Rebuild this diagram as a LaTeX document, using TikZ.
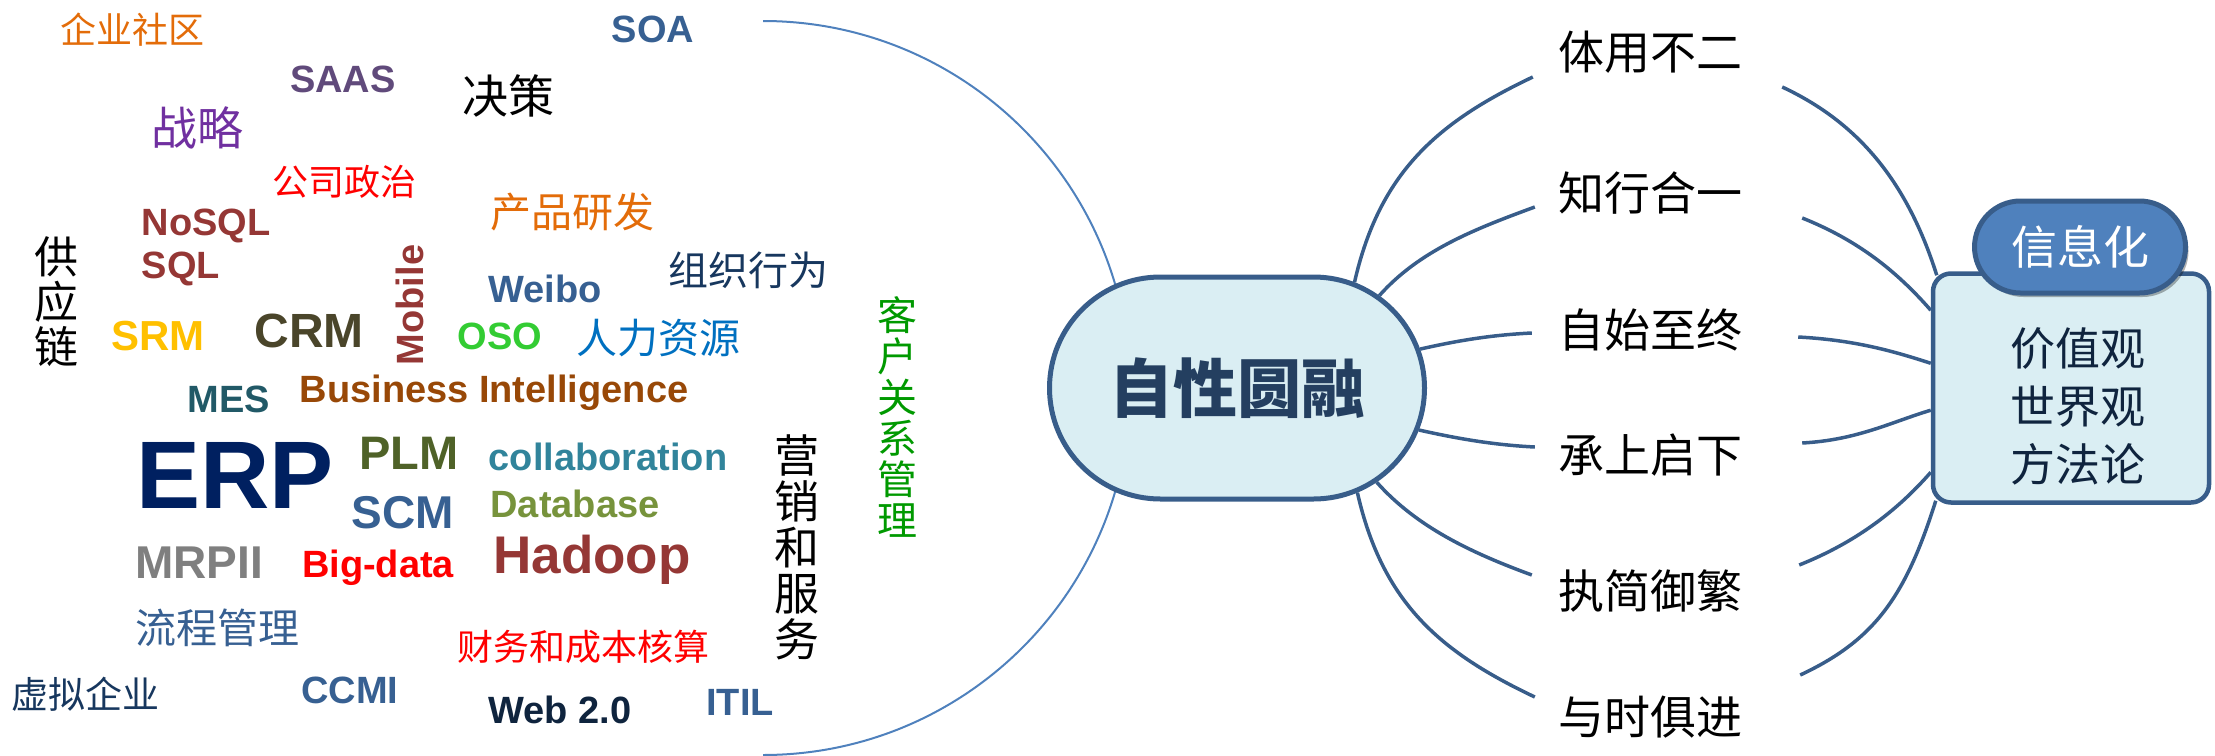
\documentclass[tikz,border=0pt]{standalone}
\usepackage{fontspec}
\setmainfont{Liberation Sans}
\newfontfamily\cjk{Noto Sans CJK SC}
\usetikzlibrary{shapes.misc,backgrounds}

\definecolor{edgeblue}{HTML}{385D8A}
\definecolor{arcblue}{HTML}{4F81BD}
\definecolor{paleblue}{HTML}{DAEEF3}
\definecolor{corenavy}{HTML}{243F60}
\definecolor{textnavy}{HTML}{0F243E}
\definecolor{orng}{HTML}{E36C09}
\definecolor{plum}{HTML}{604A7B}
\definecolor{violet}{HTML}{7030A0}
\definecolor{brick}{HTML}{953735}
\definecolor{gold}{HTML}{FFC000}
\definecolor{darkolive}{HTML}{4A452A}
\definecolor{steel}{HTML}{376092}
\definecolor{lime}{HTML}{33CC33}
\definecolor{azure}{HTML}{0070C0}
\definecolor{navy}{HTML}{17375E}
\definecolor{leafgreen}{HTML}{009900}
\definecolor{rust}{HTML}{984807}
\definecolor{teal}{HTML}{215967}
\definecolor{deepnavy}{HTML}{002060}
\definecolor{olive}{HTML}{4F6228}
\definecolor{sea}{HTML}{31849B}
\definecolor{moss}{HTML}{77933C}
\definecolor{ash}{HTML}{7F7F7F}

\begin{document}
\begin{tikzpicture}[x=1pt,y=-1pt,
    en/.style={font=\bfseries\fontsize{#1}{#1}\selectfont, anchor=base, inner sep=0pt},
    cn/.style={font=\cjk\fontsize{#1}{#1}\selectfont, inner sep=0pt},
    vcn/.style n args={2}{font=\cjk\fontsize{#1}{#2}\selectfont, align=center, inner sep=0pt},
    leaf/.style={font=\cjk\fontsize{46}{46}\selectfont, inner sep=0pt},
    core/.style={rounded rectangle, draw=edgeblue, fill=paleblue, line width=5pt,
      minimum width=375pt, minimum height=222pt, inner sep=0pt,
      font=\cjk\bfseries\fontsize{64}{64}\selectfont, text=corenavy},
    infobox/.style={rectangle, rounded corners=18pt, draw=edgeblue, fill=paleblue,
      line width=4.5pt, minimum width=276pt, minimum height=229pt},
    pill/.style={rectangle, rounded corners=46pt, draw=edgeblue, fill=arcblue, line width=5pt,
      minimum width=211pt, minimum height=92pt, inner sep=0pt, text=white,
      font=\cjk\fontsize{46}{46}\selectfont,
      preaction={fill=black, opacity=0.3, draw=none, transform canvas={shift={(3pt,-4pt)}}}},
    boxtext/.style={align=center, font=\cjk\fontsize{45}{58}\selectfont, text=textnavy, inner sep=0pt},
    branch/.style={draw=edgeblue, line width=3.5pt},
    cloudarc/.style={draw=arcblue, line width=2pt},
  ]
  \useasboundingbox (0,0) rectangle (2215,755);

  % word cloud
  \node[cn=36, text=orng] (qysq) at (132,30) {企业社区};
  \node[en=38, text=steel] (soa) at (653,42) {SOA};
  \node[en=38, text=plum] (saas) at (343,92) {SAAS};
  \node[cn=46] (jc) at (508,96) {决策};
  \node[cn=46, text=violet] (zl) at (197,128) {战略};
  \node[cn=36, text=red] (gszz) at (344,182) {公司政治};
  \node[cn=41, text=orng] (cpyf) at (572,212) {产品研发};
  \node[en=38, text=brick] (nosql) at (206,235) {NoSQL};
  \node[en=38, text=brick] (sql) at (181,278) {SQL};
  \node[vcn={44}{45}] (gyl) at (56,302) {供\\应\\链};
  \node[en=38, text=brick, anchor=center, rotate=90] (mobile) at (410,305) {Mobile};
  \node[cn=40, text=navy] (zzxw) at (748,270) {组织行为};
  \node[en=38, text=steel] (weibo) at (545,302) {Weibo};
  \node[en=42, text=gold] (srm) at (158,350) {SRM};
  \node[en=48, text=darkolive] (crm) at (309,347) {CRM};
  \node[en=38, text=lime] (oso) at (500,349) {OSO};
  \node[cn=41, text=azure] (rlzy) at (658,338) {人力资源};
  \node[vcn={40}{41}, text=leafgreen] (khgl) at (897,417) {客\\户\\关\\系\\管\\理};
  \node[en=38, text=teal] (mes) at (229,412) {MES};
  \node[en=38, text=rust] (bi) at (494,402) {Business Intelligence};
  \node[en=96, text=deepnavy] (erp) at (235,508) {ERP};
  \node[en=47, text=olive] (plm) at (409,469) {PLM};
  \node[en=46, text=steel] (scm) at (403,528) {SCM};
  \node[en=38, text=sea] (collab) at (608,470) {collaboration};
  \node[en=38, text=moss] (db) at (575,517) {Database};
  \node[en=53, text=brick] (hadoop) at (592,573) {Hadoop};
  \node[vcn={45}{46}] (yxfw) at (797,547) {营\\销\\和\\服\\务};
  \node[en=46, text=ash] (mrp) at (199,578) {MRPII};
  \node[en=38, text=red] (bigdata) at (378,577) {Big-data};
  \node[cn=41, text=steel] (lcgl) at (217,628) {流程管理};
  \node[cn=36, text=red] (cwhs) at (583,647) {财务和成本核算};
  \node[cn=37, text=navy] (xnqy) at (85,694) {虚拟企业};
  \node[en=38, text=steel] (ccmi) at (350,703) {CCMI};
  \node[en=38, text=textnavy] (web) at (560,723) {Web 2.0};
  \node[en=38, text=steel] (itil) at (740,715) {ITIL};

  % hub and branches
  \node[core] (core) at (1237,388) {自性圆融};
  \node[leaf] (t1) at (1650,52) {体用不二};
  \node[leaf] (t2) at (1650,193) {知行合一};
  \node[leaf] (t3) at (1650,330) {自始至终};
  \node[leaf] (t4) at (1650,455) {承上启下};
  \node[leaf] (t5) at (1650,591) {执简御繁};
  \node[leaf] (t6) at (1650,717) {与时俱进};

  \node[infobox] (box) at (2071,388) {};
  \node[pill] (tag) at (2080,247) {信息化};
  \node[boxtext] (views) at (2078,406) {价值观\\世界观\\方法论};

  \begin{scope}[on background layer]
    \coordinate (arctop) at (763,21);
    \draw[cloudarc] (arctop) arc[start angle=-90, end angle=90, radius=367];

    \draw[branch] (core.42) .. controls +(25,-110) and +(-95,45) .. ([shift={(-25,25)}]t1.west);
    \draw[branch] (core.33.6) .. controls +(40,-45) and +(-60,22) .. ([shift={(-23,14)}]t2.west);
    \draw[branch] (core.12.2) .. controls +(40,-9) and +(-40,2) .. ([shift={(-26,3)}]t3.west);
    \draw[branch] (core.-13.5) .. controls +(40,9) and +(-40,-2) .. ([shift={(-23,-8)}]t4.west);
    \draw[branch] (core.-34.7) .. controls +(40,45) and +(-60,-22) .. ([shift={(-26,-16)}]t5.west);
    \draw[branch] (core.-41) .. controls +(25,110) and +(-95,-45) .. ([shift={(-23,-20)}]t6.west);

    \draw[branch] ([shift={(40,35)}]t1.east) .. controls +(75,35) and +(-30,-95) .. ([shift={(6,4)}]box.north west);
    \draw[branch] ([shift={(60,25)}]t2.east) .. controls +(55,22) and +(-35,-40) .. (box.151);
    \draw[branch] ([shift={(56,7)}]t3.east) .. controls +(55,3) and +(-40,-13) .. (box.170.7);
    \draw[branch] ([shift={(60,-12)}]t4.east) .. controls +(55,-3) and +(-40,12) .. (box.189.1);
    \draw[branch] ([shift={(57,-26)}]t5.east) .. controls +(55,-22) and +(-35,40) .. (box.211);
    \draw[branch] ([shift={(58,-42)}]t6.east) .. controls +(75,-35) and +(-30,95) .. ([shift={(5,-4)}]box.south west);
  \end{scope}
\end{tikzpicture}
\end{document}
